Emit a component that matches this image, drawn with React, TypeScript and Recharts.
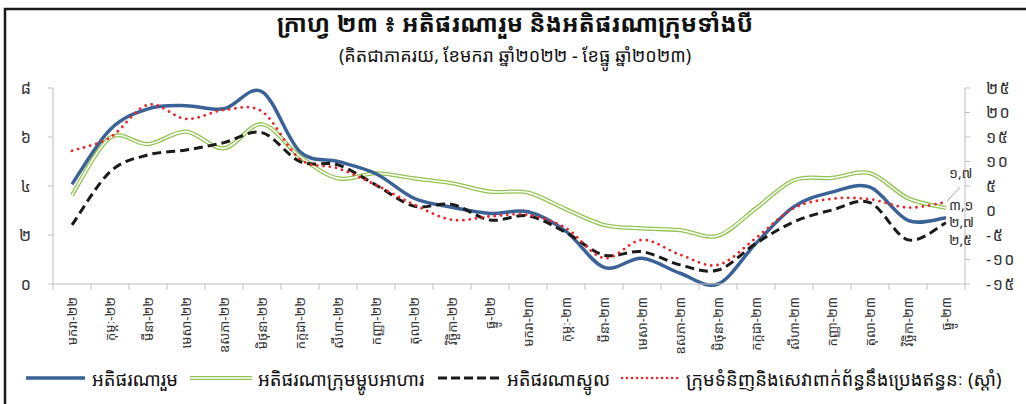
import React from "react";
import { LabelList, Line, LineChart, XAxis, YAxis } from "recharts";

const months = [
  "មករា-២២", "កុម្ភៈ-២២", "មីនា-២២", "មេសា-២២", "ឧសភា-២២", "មិថុនា-២២",
  "កក្កដា-២២", "សីហា-២២", "កញ្ញា-២២", "តុលា-២២", "វិច្ឆិកា-២២", "ធ្នូ-២២",
  "មករា-២៣", "កុម្ភៈ-២៣", "មីនា-២៣", "មេសា-២៣", "ឧសភា-២៣", "មិថុនា-២៣",
  "កក្កដា-២៣", "សីហា-២៣", "កញ្ញា-២៣", "តុលា-២៣", "វិច្ឆិកា-២៣", "ធ្នូ-២៣",
];

// percent, left axis
const headline = [4.07, 6.3, 7.15, 7.28, 7.15, 7.85, 5.4, 5.0, 4.5, 3.5, 3.13, 2.88,
  2.95, 2.15, 0.68, 1.05, 0.44, 0.0, 1.66, 3.16, 3.75, 3.95, 2.6, 2.7];
const food = [3.63, 5.97, 5.71, 6.22, 5.54, 6.52, 5.2, 4.31, 4.52, 4.31, 4.11, 3.77,
  3.73, 3.05, 2.41, 2.27, 2.2, 1.97, 3.09, 4.24, 4.33, 4.52, 3.5, 3.1];
const core = [2.41, 4.58, 5.27, 5.47, 5.77, 6.18, 5.0, 4.86, 4.04, 3.18, 3.25, 2.61,
  2.78, 2.1, 1.18, 1.32, 0.78, 0.57, 1.66, 2.54, 3.02, 3.32, 1.8, 2.5];
// percent, right axis
const fuel = [12.2, 14.9, 21.6, 18.7, 20.5, 20.2, 10.5, 8.6, 5.2, 1.2, -1.9, -1.2,
  -0.9, -3.6, -9.7, -6.0, -9.0, -11.1, -5.6, 0.5, 2.4, 2.3, 0.6, 1.7];

const leftTicks = [0, 2, 4, 6, 8];
const rightTicks = [-15, -10, -5, 0, 5, 10, 15, 20, 25];

const data = months.map((m, i) => ({
  m,
  headline: headline[i],
  food: food[i],
  core: core[i],
  fuel: fuel[i],
}));

const KH = "'Noto Sans Khmer', 'Khmer OS System', 'Khmer OS', 'Noto Serif Khmer', sans-serif";
const BLUE = "#3a6296";
const GREEN = "#92c450";
const RED = "#ec2427";
const BLACK = "#1a1a1a";
const AXIS = "#bfbfbf";
const TXT = "#333333";

const W = 1026;
const H = 404;
const PLOT_L = 53;
const PLOT_R = 965;
const BAND = (PLOT_R - PLOT_L) / months.length;

const KH_DIGITS = "០១២៣៤៥៦៧៨៩";
const toKh = (v: number | string) =>
  String(v).replace(".", ",").replace(/[0-9]/g, (d) => KH_DIGITS[+d]);

/** Excel-style smoothed line: uniform Catmull-Rom through every point. */
function smoothCurve(context: any) {
  let pts: number[][] = [];
  return {
    areaStart() {},
    areaEnd() {},
    lineStart() {
      pts = [];
    },
    point(x: number, y: number) {
      pts.push([+x, +y]);
    },
    lineEnd() {
      if (!pts.length) return;
      context.moveTo(pts[0][0], pts[0][1]);
      for (let i = 0; i < pts.length - 1; i++) {
        const p0 = pts[Math.max(0, i - 1)];
        const p1 = pts[i];
        const p2 = pts[i + 1];
        const p3 = pts[Math.min(pts.length - 1, i + 2)];
        context.bezierCurveTo(
          p1[0] + (p2[0] - p0[0]) / 6,
          p1[1] + (p2[1] - p0[1]) / 6,
          p2[0] - (p3[0] - p1[0]) / 6,
          p2[1] - (p3[1] - p1[1]) / 6,
          p2[0],
          p2[1]
        );
      }
    },
  };
}

/** Rotated month label plus the between-category tick marks. */
function MonthTick(props: any) {
  const { x = 0, payload, index = 0 } = props;
  const top = 284;
  return (
    <g>
      <line x1={x - BAND / 2} x2={x - BAND / 2} y1={top} y2={top + 6} stroke={AXIS} />
      {index === months.length - 1 && (
        <line x1={x + BAND / 2} x2={x + BAND / 2} y1={top} y2={top + 6} stroke={AXIS} />
      )}
      <text
        x={x}
        y={top + 13}
        transform={`rotate(-90, ${x}, ${top + 13})`}
        textAnchor="end"
        dominantBaseline="central"
        fontSize={13}
        fontFamily={KH}
        fill={TXT}
      >
        {payload?.value}
      </text>
    </g>
  );
}

/** Value label at the last point of a series only. */
function endLabel(dy: number, leader?: boolean) {
  return function EndLabel(props: any) {
    const { x = 0, y = 0, index = 0, value } = props;
    if (index !== months.length - 1) return null;
    return (
      <g>
        {leader && (
          <line x1={x + 1} y1={y - 1} x2={x + 14} y2={y - 15} stroke="#a6a6a6" strokeWidth={1} />
        )}
        <text
          x={x + 3}
          y={y + dy}
          dominantBaseline="central"
          fontSize={14}
          fontFamily={KH}
          fill={TXT}
        >
          {toKh(Number(value).toFixed(1))}
        </text>
      </g>
    );
  };
}

function LegendRow() {
  const y = 378;
  return (
    <g fontFamily={KH} fontSize={18.5} fill="#111">
      <line x1={26} x2={85} y1={y} y2={y} stroke={BLUE} strokeWidth={3.5} />
      <text x={92} y={y} dominantBaseline="central">អតិផរណារួម</text>

      <line x1={190} x2={252} y1={y} y2={y} stroke={GREEN} strokeWidth={4} />
      <line x1={190} x2={252} y1={y} y2={y} stroke="#fff" strokeWidth={1.6} />
      <text x={258} y={y} dominantBaseline="central">អតិផរណាក្រុមម្ហូបអាហារ</text>

      <line x1={438} x2={500} y1={y} y2={y} stroke={BLACK} strokeWidth={3} strokeDasharray="9 4" />
      <text x={507} y={y} dominantBaseline="central">អតិផរណាស្នូល</text>

      <line x1={622} x2={680} y1={y} y2={y} stroke={RED} strokeWidth={2.6}
        strokeDasharray="0.01 5" strokeLinecap="round" />
      <text x={686} y={y} dominantBaseline="central">
        ក្រុមទំនិញនិងសេវាពាក់ព័ន្ធនឹងប្រេងឥន្ធនៈ (ស្ដាំ)
      </text>
    </g>
  );
}

export default function App() {
  return (
    <div style={{ position: "absolute", left: 0, top: 0, width: W, height: H, background: "#fff" }}>
      <div
        style={{
          position: "absolute",
          left: 4,
          width: W - 4,
          top: 8,
          textAlign: "center",
          fontFamily: KH,
          fontWeight: 700,
          fontSize: 24,
          lineHeight: "30px",
          color: "#111",
        }}
      >
        ក្រាហ្វ ២៣ ៖ អតិផរណារួម និងអតិផរណាក្រុមទាំងបី
      </div>
      <div
        style={{
          position: "absolute",
          left: 4,
          width: W - 4,
          top: 42,
          textAlign: "center",
          fontFamily: KH,
          fontSize: 18,
          lineHeight: "26px",
          color: "#111",
        }}
      >
        (គិតជាភាគរយ, ខែមករា ឆ្នាំ២០២២ - ខែធ្នូ ឆ្នាំ២០២៣)
      </div>

      <div style={{ position: "absolute", left: 0, top: 0 }}>
        <LineChart width={W} height={H} data={data} margin={{ top: 88, right: 0, bottom: 40, left: 0 }}>
          <XAxis
            dataKey="m"
            interval={0}
            height={80}
            padding={{ left: BAND / 2, right: BAND / 2 }}
            stroke={AXIS}
            tickLine={false}
            tick={<MonthTick />}
          />
          <YAxis
            yAxisId="left"
            domain={[0, 8]}
            ticks={leftTicks}
            interval={0}
            width={PLOT_L}
            stroke={AXIS}
            tickSize={5}
            tickMargin={17}
            tickFormatter={(v) => toKh(v)}
            tick={{ fontSize: 16, fill: TXT, fontFamily: KH }}
          />
          <YAxis
            yAxisId="right"
            orientation="right"
            domain={[-15, 25]}
            ticks={rightTicks}
            interval={0}
            width={W - PLOT_R}
            stroke={AXIS}
            tickSize={5}
            tickMargin={16}
            tickFormatter={(v) => toKh(v)}
            tick={{ fontSize: 16, fill: TXT, fontFamily: KH, letterSpacing: 1.5 }}
          />
          <Line
            yAxisId="left"
            dataKey="food"
            type={smoothCurve as any}
            stroke={GREEN}
            strokeWidth={4.2}
            dot={false}
            isAnimationActive={false}
          />
          <Line
            yAxisId="left"
            dataKey="food"
            type={smoothCurve as any}
            stroke="#fff"
            strokeWidth={1.6}
            dot={false}
            isAnimationActive={false}
          >
            <LabelList dataKey="food" content={endLabel(-4)} />
          </Line>
          <Line
            yAxisId="left"
            dataKey="headline"
            type={smoothCurve as any}
            stroke={BLUE}
            strokeWidth={3.5}
            dot={false}
            isAnimationActive={false}
          >
            <LabelList dataKey="headline" content={endLabel(4)} />
          </Line>
          <Line
            yAxisId="left"
            dataKey="core"
            type={smoothCurve as any}
            stroke={BLACK}
            strokeWidth={3}
            strokeDasharray="9 5"
            dot={false}
            isAnimationActive={false}
          >
            <LabelList dataKey="core" content={endLabel(17)} />
          </Line>
          <Line
            yAxisId="right"
            dataKey="fuel"
            type={smoothCurve as any}
            stroke={RED}
            strokeWidth={2.8}
            strokeDasharray="0.01 6.3"
            strokeLinecap="round"
            dot={false}
            isAnimationActive={false}
          >
            <LabelList dataKey="fuel" content={endLabel(-30, true)} />
          </Line>
        </LineChart>
      </div>

      <svg
        width={W}
        height={H}
        style={{ position: "absolute", left: 0, top: 0, pointerEvents: "none" }}
      >
        <line x1={4} x2={W} y1={9} y2={9} stroke="#1a1a1a" strokeWidth={2.5} />
        <line x1={5} x2={5} y1={8} y2={H} stroke="#1a1a1a" strokeWidth={2.5} />
        <LegendRow />
      </svg>
    </div>
  );
}
